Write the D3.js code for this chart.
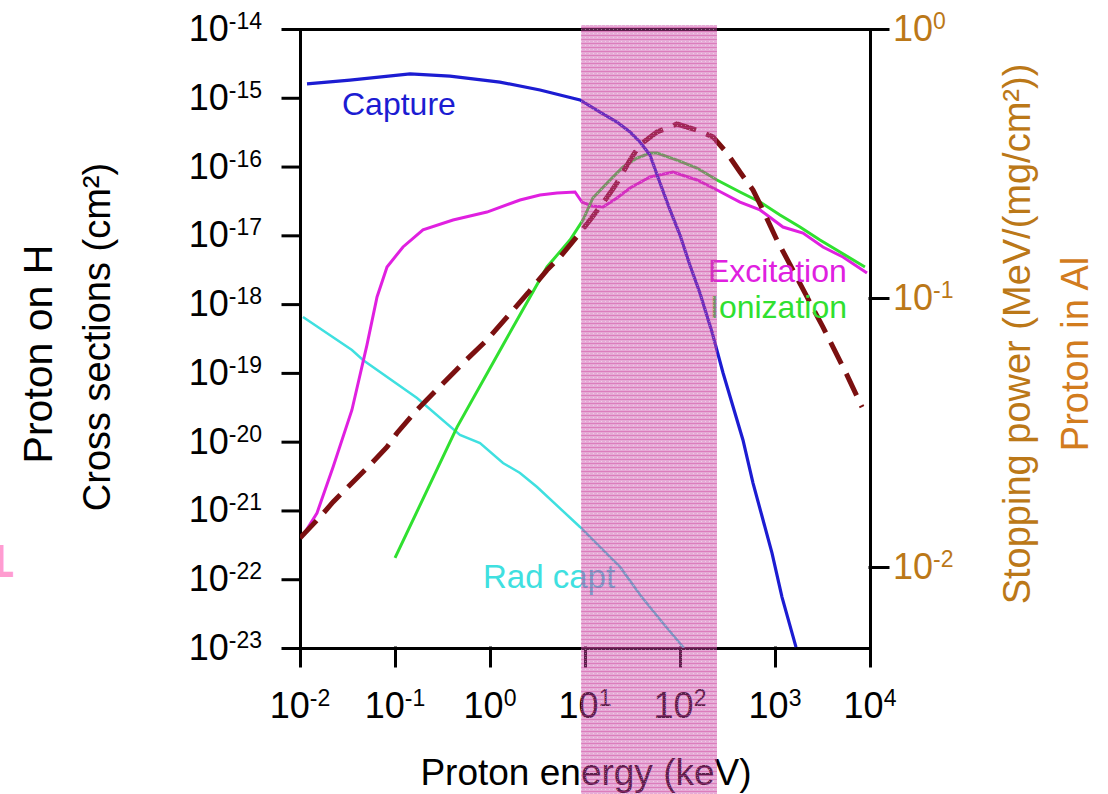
<!DOCTYPE html>
<html>
<head>
<meta charset="utf-8">
<script src="https://cdn.jsdelivr.net/npm/d3@7"></script>
<style>
  body { margin: 0; background: #fff; }
  svg { display: block; font-family: "Liberation Sans", Arial, sans-serif; }
</style>
</head>
<body>
<script>
// axis domains and tick exponents
var energyDomain = [1e-2, 1e4];
var sigmaDomain = [1e-23, 1e-14];
var stopDomain = [0.005, 1];
var xExponents = [-2, -1, 0, 1, 2, 3, 4];
var leftExponents = [-14, -15, -16, -17, -18, -19, -20, -21, -22, -23];
var rightExponents = [0, -1, -2];

// shaded energy window (keV)
var bandRange = [9.1, 245];

// charge capture cross section (cm2) vs proton energy (keV)
var captureE = [0.01185, 0.0336, 0.144, 0.379, 1.27, 3.36, 5.46, 8.86, 14.4, 21.7, 29.8, 37.9, 48.3,
  61.6, 78.5, 100, 127, 162, 217, 284, 460, 587, 929, 1185, 1664];
var captureSigma = [1.59e-15, 1.81e-15, 2.22e-15, 2.07e-15, 1.69e-15, 1.30e-15, 1.10e-15, 9.3e-16, 6.2e-16,
  4.44e-16, 3.18e-16, 2.28e-16, 1.47e-16, 5.77e-17, 2.34e-17, 1.01e-17, 3.7e-18, 1.45e-18, 3.94e-19,
  9.97e-20, 1.06e-20, 2.5e-21, 2.41e-22, 5.5e-23, 1.03e-23];

// excitation
var excitationE = [0.0105, 0.0151, 0.0223, 0.0352, 0.0507, 0.0647, 0.0824, 0.1214, 0.197, 0.408, 0.929,
  2.07, 3.36, 5.07, 7.85, 9.29, 11.85, 15.5, 21.7, 29.8, 48.3, 84.4, 151, 245, 428, 695, 1213, 1972,
  3199, 5195, 9296];
var excitationSigma = [4.11e-22, 9.18e-22, 4.29e-21, 2.89e-20, 2.55e-19, 1.27e-18, 3.47e-18, 6.77e-18,
  1.20e-17, 1.67e-17, 2.18e-17, 3.26e-17, 3.86e-17, 4.13e-17, 4.27e-17, 3.05e-17, 2.67e-17, 2.58e-17,
  3.49e-17, 4.88e-17, 7.05e-17, 8.33e-17, 6.38e-17, 4.56e-17, 3.05e-17, 2.34e-17, 1.32e-17, 1.08e-17,
  6.77e-18, 4.84e-18, 2.83e-18];

// ionization
var ionizationE = [0.1, 0.45, 1.37, 3.98, 6.95, 9.52, 12.1, 17.1, 25.1, 35.3, 48.3, 57.3, 93, 151, 245,
  428, 695, 1129, 1833, 2976, 4833, 8850];
var ionizationSigma = [2.04e-22, 1.63e-20, 2.55e-19, 3.47e-18, 8.55e-18, 1.67e-17, 3.49e-17, 5.77e-17,
  9.86e-17, 1.33e-16, 1.57e-16, 1.57e-16, 1.24e-16, 9.52e-17, 6.38e-17, 4.27e-17, 3.05e-17, 1.98e-17,
  1.32e-17, 8.55e-18, 5.72e-18, 3.47e-18];

// radiative capture
var radE = [0.01075, 0.0352, 0.046, 0.1705, 0.483, 0.785, 1.37, 2.07, 3.13, 8.86, 18.3, 23.4, 38.8, 64.7, 110];
var radSigma = [6.5e-19, 2.15e-19, 1.54e-19, 4.31e-20, 1.25e-20, 9.57e-21, 4.9e-21, 3.51e-21, 2.19e-21,
  5.75e-22, 2.11e-22, 1.51e-22, 5.71e-23, 2.39e-23, 1.0e-23];

// stopping power of protons in Al, MeV/(mg/cm2), right axis
var stopE = [0.01, 0.01625, 0.0223, 0.0507, 0.0824, 0.105, 0.1705, 0.52, 0.929, 2.51, 3.98, 5.46, 8.86,
  11.3, 17.1, 21.7, 29.8, 37.9, 57.3, 93, 151, 222, 312, 428, 587, 748, 1050, 1545, 2173, 3199, 5730, 8240];
var stopS = [0.01282, 0.01534, 0.01745, 0.02333, 0.02793, 0.0315, 0.0384, 0.0573, 0.0698, 0.1044, 0.127,
  0.142, 0.1746, 0.195, 0.237, 0.268, 0.326, 0.371, 0.414, 0.4435, 0.421, 0.397, 0.346, 0.294, 0.252,
  0.212, 0.164, 0.127, 0.1009, 0.078, 0.0517, 0.0393];

var w = 1108, h = 794;
var plotL = 300, plotR = 870, plotT = 29, plotB = 648;
var brown = "#bb7818";

var x = d3.scaleLog().domain(energyDomain).range([plotL, plotR]);
var yL = d3.scaleLog().domain(sigmaDomain).range([plotB, plotT]);
var yR = d3.scaleLog().domain(stopDomain).range([plotB, plotT]);

var svg = d3.select("body").append("svg")
  .attr("width", w)
  .attr("height", h);

var defs = svg.append("defs");
defs.append("clipPath").attr("id", "plot")
  .append("rect")
  .attr("x", plotL).attr("y", plotT)
  .attr("width", plotR - plotL).attr("height", plotB - plotT);

// fine dotted texture for the shaded window
var pat = defs.append("pattern")
  .attr("id", "dots")
  .attr("width", 4).attr("height", 4)
  .attr("patternUnits", "userSpaceOnUse");
pat.append("rect").attr("width", 4).attr("height", 4)
  .attr("fill", "rgb(200,70,165)").attr("fill-opacity", 0.46);
pat.append("rect").attr("y", 3).attr("width", 4).attr("height", 1)
  .attr("fill", "rgb(200,40,140)").attr("fill-opacity", 0.35);
pat.append("rect").attr("x", 1).attr("y", 1).attr("width", 1).attr("height", 1)
  .attr("fill", "#fff").attr("fill-opacity", 0.4);

function pow10(e) { return Math.pow(10, e); }

// axes: ticks only, labels drawn below with superscripts
svg.append("g")
  .attr("transform", "translate(" + plotL + ",0)")
  .call(d3.axisLeft(yL).tickValues(leftExponents.map(pow10)).tickSize(17).tickSizeOuter(0).tickFormat(""));
svg.append("g")
  .attr("transform", "translate(" + plotR + ",0)")
  .call(d3.axisRight(yR).tickValues(rightExponents.map(pow10)).tickSize(18).tickSizeOuter(0).tickFormat(""));
svg.append("g")
  .attr("transform", "translate(0," + plotB + ")")
  .call(d3.axisBottom(x).tickValues(xExponents.map(pow10)).tickSize(18).tickSizeOuter(0).tickFormat(""));

svg.append("line")
  .attr("class", "frame")
  .attr("x1", plotL).attr("x2", plotR)
  .attr("y1", plotT + 0.5).attr("y2", plotT + 0.5);

svg.selectAll("g line, g path.domain, line.frame")
  .attr("stroke", "#000")
  .attr("stroke-width", 3)
  .attr("stroke-linecap", "square");

// tick labels as 10 with a raised exponent
function powerLabel(sel, e) {
  sel.append("tspan").text("10");
  sel.append("tspan").attr("font-size", 23).attr("dy", -12).text(e);
}

svg.selectAll("text.lt")
  .data(leftExponents)
  .enter()
  .append("text")
  .attr("class", "lt")
  .attr("x", 262)
  .attr("y", function(d) { return yL(pow10(d)) + 12; })
  .attr("text-anchor", "end")
  .attr("font-size", 36)
  .attr("fill", "#000")
  .each(function(d) { powerLabel(d3.select(this), d); });

svg.selectAll("text.rt")
  .data(rightExponents)
  .enter()
  .append("text")
  .attr("class", "rt")
  .attr("x", 893)
  .attr("y", function(d) { return yR(pow10(d)) + 11.5; })
  .attr("font-size", 36)
  .attr("fill", brown)
  .each(function(d) { powerLabel(d3.select(this), d); });

svg.selectAll("text.bt")
  .data(xExponents)
  .enter()
  .append("text")
  .attr("class", "bt")
  .attr("x", function(d) { return x(pow10(d)); })
  .attr("y", 718)
  .attr("text-anchor", "middle")
  .attr("font-size", 36)
  .attr("fill", "#000")
  .each(function(d) { powerLabel(d3.select(this), d); });

// curves
function zip(a, b) { return a.map(function(v, i) { return [v, b[i]]; }); }

var lineL = d3.line()
  .x(function(d) { return x(d[0]); })
  .y(function(d) { return yL(d[1]); });
var lineR = d3.line()
  .x(function(d) { return x(d[0]); })
  .y(function(d) { return yR(d[1]); });

var curves = svg.append("g").attr("clip-path", "url(#plot)");

curves.append("path")
  .datum(zip(radE, radSigma))
  .attr("d", lineL)
  .attr("fill", "none").attr("stroke", "#3fe0e0").attr("stroke-width", 2.5);

curves.append("path")
  .datum(zip(excitationE, excitationSigma))
  .attr("d", lineL)
  .attr("fill", "none").attr("stroke", "#e020e0").attr("stroke-width", 3);

curves.append("path")
  .datum(zip(ionizationE, ionizationSigma))
  .attr("d", lineL)
  .attr("fill", "none").attr("stroke", "#30e030").attr("stroke-width", 3);

curves.append("path")
  .datum(zip(captureE, captureSigma))
  .attr("d", lineL)
  .attr("fill", "none").attr("stroke", "#1c1cd2").attr("stroke-width", 3.2);

curves.append("path")
  .datum(zip(stopE, stopS))
  .attr("d", lineR)
  .attr("fill", "none").attr("stroke", "#7b1010").attr("stroke-width", 5)
  .attr("stroke-dasharray", "24,11");

// curve labels
var notes = [
  {t: "Capture", x: 342, y: 115, c: "#1c1cd2", s: 32},
  {t: "Excitation", x: 708, y: 282, c: "#e020e0", s: 32},
  {t: "Ionization", x: 710, y: 318, c: "#30e030", s: 32},
  {t: "Rad capt", x: 483, y: 588, c: "#3fe0e0", s: 33}
];
svg.selectAll("text.note")
  .data(notes)
  .enter()
  .append("text")
  .attr("class", "note")
  .attr("x", function(d) { return d.x; })
  .attr("y", function(d) { return d.y; })
  .attr("font-size", function(d) { return d.s; })
  .attr("fill", function(d) { return d.c; })
  .text(function(d) { return d.t; });

// axis titles
svg.append("text")
  .attr("x", 586).attr("y", 785)
  .attr("text-anchor", "middle")
  .attr("font-size", 37)
  .text("Proton energy (keV)");

svg.append("text")
  .attr("transform", "translate(52,354) rotate(-90)")
  .attr("text-anchor", "middle")
  .attr("font-size", 41)
  .text("Proton on H");

svg.append("text")
  .attr("transform", "translate(110,337) rotate(-90)")
  .attr("text-anchor", "middle")
  .attr("font-size", 38)
  .text("Cross sections (cm²)");

svg.append("text")
  .attr("transform", "translate(1030,334) rotate(-90)")
  .attr("text-anchor", "middle")
  .attr("font-size", 38)
  .attr("fill", brown)
  .text("Stopping power (MeV/(mg/cm²))");

svg.append("text")
  .attr("transform", "translate(1088,354) rotate(-90)")
  .attr("text-anchor", "middle")
  .attr("font-size", 38)
  .attr("fill", "#d27c1e")
  .text("Proton in Al");

// stray fragment at the left edge
svg.append("text")
  .attr("transform", "translate(-2,577) scale(0.55,1)")
  .attr("font-size", 47)
  .attr("font-weight", "bold")
  .attr("fill", "#ff9dd0")
  .text("L");

// shaded energy window on top of everything
svg.append("rect")
  .attr("x", x(bandRange[0]))
  .attr("y", 25)
  .attr("width", x(bandRange[1]) - x(bandRange[0]))
  .attr("height", h - 25)
  .attr("fill", "url(#dots)");
</script>
</body>
</html>
